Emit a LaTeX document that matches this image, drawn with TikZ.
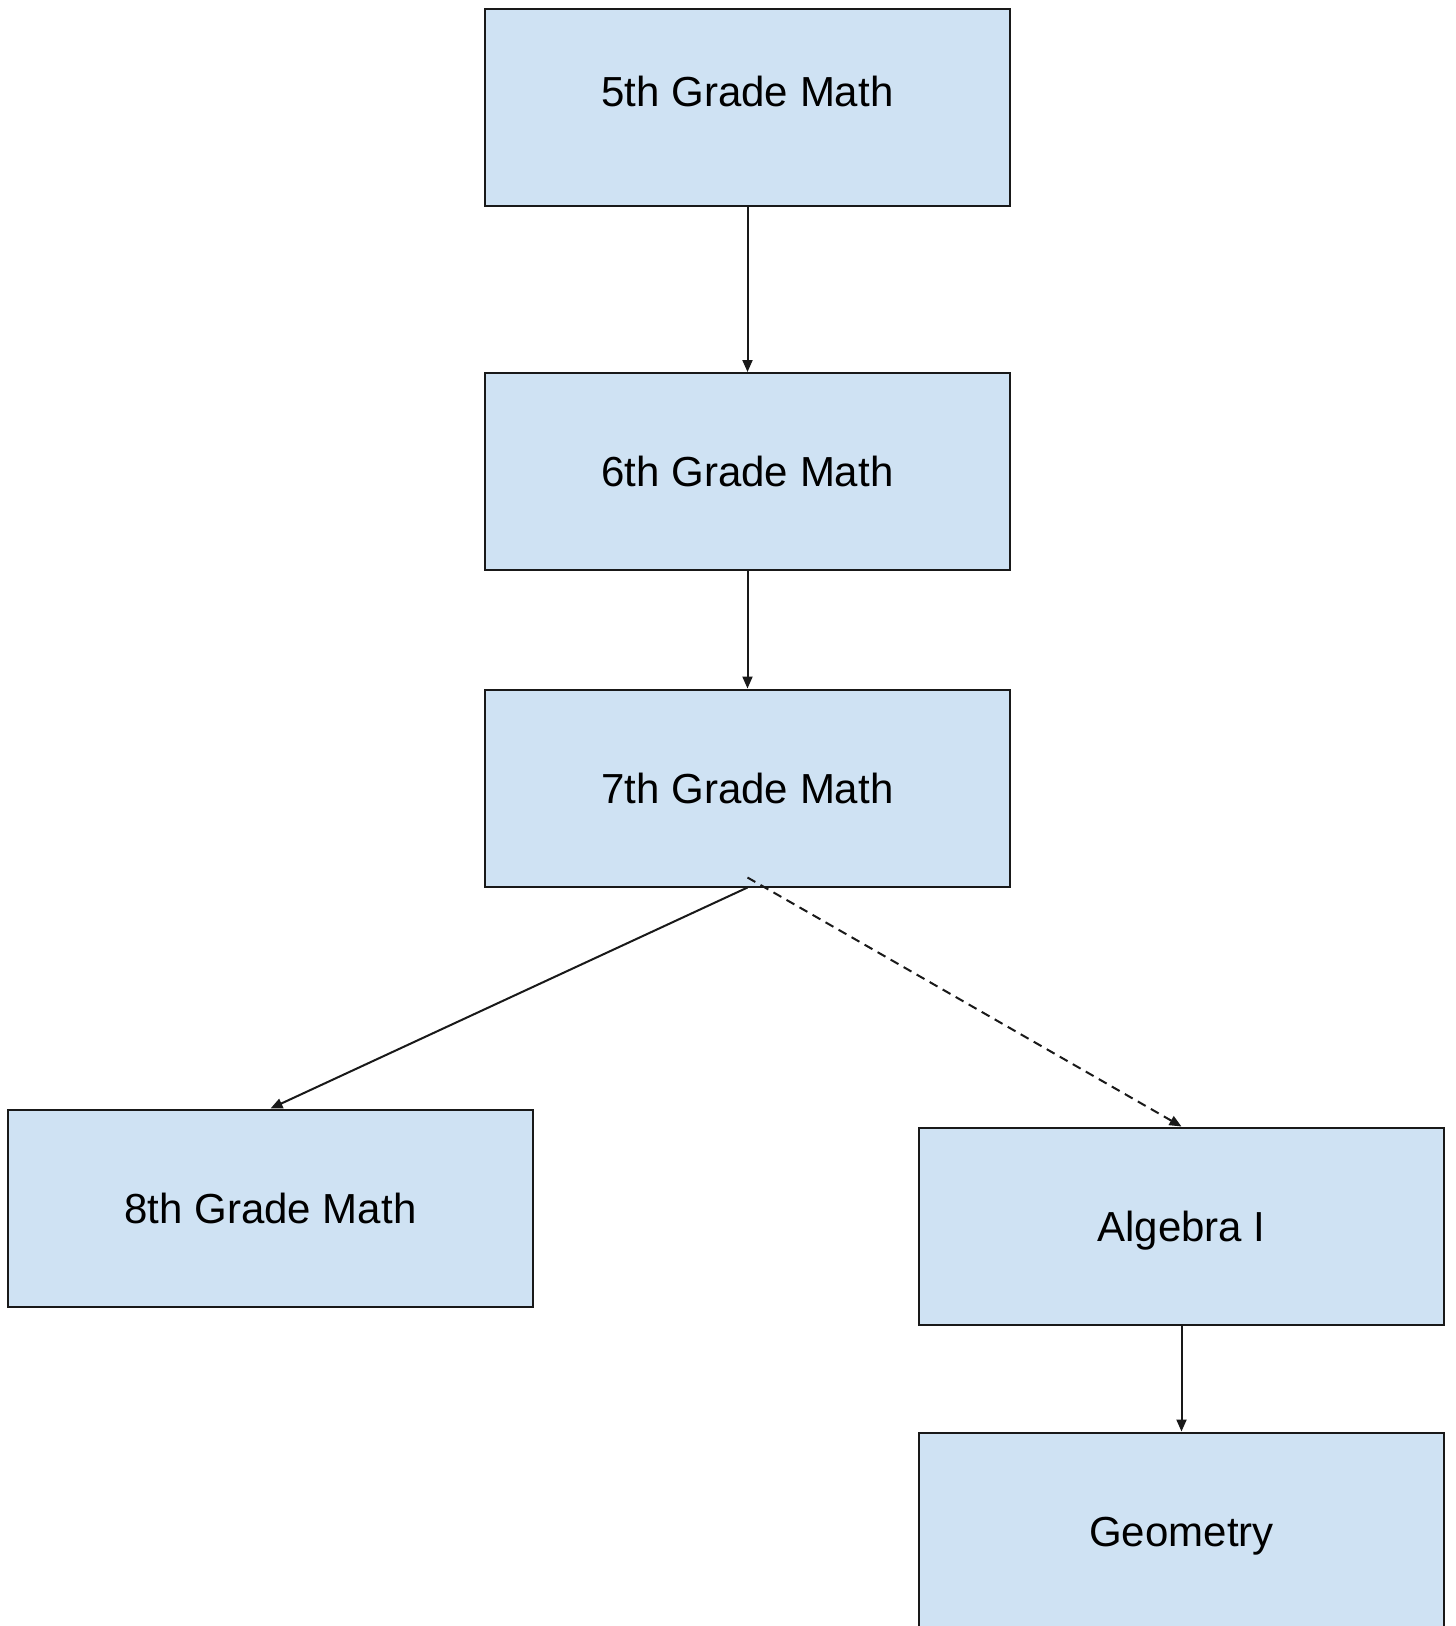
\documentclass[tikz,border=0pt]{standalone}
\usepackage{fontspec}
\setmainfont{Liberation Sans}
\usetikzlibrary{arrows.meta}
\definecolor{boxblue}{HTML}{CFE2F3}
\begin{document}
\begin{tikzpicture}[x=1pt,y=-1pt,
  course/.style={draw=black!90, line width=2pt, fill=boxblue, rectangle,
    minimum width=525pt, minimum height=197pt, inner sep=0pt,
    font=\fontsize{42}{50}\selectfont, text height=30pt, text depth=0pt},
  plain/.style={font=\fontsize{42}{50}\selectfont, text height=30pt, text depth=0pt, inner sep=0pt},
  link/.style={line width=2pt, draw=black!90, -{Triangle[length=12pt,width=10pt]}},
  dlink/.style={link, dash pattern=on 9pt off 6pt}]
\useasboundingbox (0,0) rectangle (1456,1626);
\clip (0,0) rectangle (1456,1626);
\fill[white] (0,0) rectangle (1456,1626);
\node[course] (m5) at (747.5,107.5) {};
\node[plain] (t5) at (747.5,91) {5th Grade Math};
\node[course] (m6) at (747.5,471.5) {6th Grade Math};
\node[course] (m7) at (747.5,788) {7th Grade Math};
\node[course] (m8) at (270.5,1208) {8th Grade Math};
\node[course] (alg) at (1181.5,1226) {Algebra I};
\node[course] (geo) at (1181.5,1531) {Geometry};
\coordinate (ds) at ([yshift=10pt]m7.south);
\draw[link] (m5.south) -- (m6.north);
\draw[link] (m6.south) -- (m7.north);
\draw[link] (m7.south) -- (m8.north);
\draw[dlink] (ds) -- (alg.north);
\draw[link] (alg.south) -- (geo.north);
\end{tikzpicture}
\end{document}
